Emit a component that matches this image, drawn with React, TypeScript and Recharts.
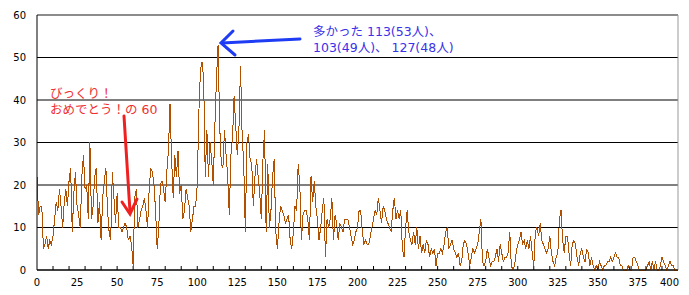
import React from "react";
import {
  LineChart, Line, XAxis, YAxis, CartesianGrid, ReferenceLine,
} from "recharts";

// counts per number 0..400
const counts = [
  22, 13, 15, 15, 5, 6, 8, 5, 7, 6,
  8, 12, 16, 14, 19, 15, 10, 16, 19, 15,
  21, 24, 9, 18, 23, 15, 13, 10, 22, 27,
  19, 20, 12, 30, 12, 15, 22, 24, 11, 16,
  7, 17, 21, 24, 14, 9, 7, 23, 17, 11,
  18, 10, 10, 9, 10, 11, 10, 7, 8, 6,
  1, 17, 19, 10, 12, 14, 15, 17, 14, 10,
  19, 24, 23, 20, 14, 5, 10, 20, 21, 19,
  16, 23, 28, 39, 26, 17, 27, 22, 28, 18,
  20, 12, 14, 19, 17, 15, 9, 12, 15, 15,
  20, 37, 47, 49, 45, 22, 33, 22, 30, 26,
  20, 34, 45, 53, 34, 25, 24, 33, 27, 22,
  13, 27, 31, 41, 34, 27, 33, 48, 32, 25,
  9, 30, 32, 26, 25, 15, 22, 26, 22, 18,
  12, 26, 33, 9, 25, 10, 14, 22, 26, 9,
  5, 11, 15, 14, 13, 11, 12, 13, 7, 5,
  9, 15, 14, 25, 20, 7, 13, 14, 14, 12,
  7, 22, 16, 21, 15, 12, 7, 10, 14, 17,
  3, 12, 10, 12, 17, 7, 13, 11, 7, 11,
  10, 9, 12, 12, 12, 10, 8, 6, 7, 9,
  10, 14, 14, 9, 6, 7, 6, 6, 8, 10,
  12, 14, 13, 17, 14, 11, 15, 14, 12, 11,
  10, 9, 14, 17, 12, 14, 12, 14, 5, 3,
  10, 14, 9, 7, 6, 9, 6, 10, 5, 8,
  4, 6, 4, 7, 6, 3, 5, 4, 5, 1,
  4, 4, 5, 4, 6, 9, 10, 5, 6, 7,
  5, 4, 3, 4, 1, 2, 6, 7, 6, 4,
  1, 3, 5, 4, 5, 6, 9, 12, 2, 1,
  2, 5, 3, 1, 2, 2, 3, 5, 2, 6,
  4, 2, 3, 3, 4, 9, 1, 0, 1, 4,
  6, 7, 9, 6, 7, 5, 7, 5, 8, 4,
  1, 9, 10, 8, 11, 7, 6, 5, 4, 5,
  8, 4, 2, 1, 3, 4, 12, 14, 7, 4,
  8, 8, 4, 1, 6, 7, 6, 3, 1, 4,
  5, 3, 2, 5, 4, 1, 3, 1, 0, 1,
  0, 2, 1, 0, 1, 1, 2, 2, 3, 2,
  3, 4, 3, 3, 1, 1, 0, 0, 0, 1,
  0, 0, 3, 3, 2, 1, 0, 0, 0, 0,
  0, 1, 2, 0, 2, 0, 2, 0, 0, 1,
  3, 2, 1, 0, 1, 2, 1, 1, 0, 0,
  0,
];

const yTicks = [0, 10, 20, 30, 40, 50, 60];
const xMarks = [10, 20, 30, 40, 50, 60, 70, 80, 90, 100, 110, 120, 130, 140, 150, 160, 170, 180, 190, 200, 210, 220, 230, 240, 250, 260, 270, 280, 290, 300, 310, 320, 330, 340, 350, 360, 370, 380, 390];
const xLabels = [0, 25, 50, 75, 100, 125, 150, 175, 200, 225, 250, 275, 300, 325, 350, 375, 400];

const blueNote = ["多かった 113(53人)、", "103(49人)、 127(48人)"];
const redNote = ["びっくり！", "おめでとう！の 60"];

const data = counts.map((c, i) => ({ n: i, count: c }));
const xTicks = Array.from(new Set([...xLabels, ...xMarks])).sort((a, b) => a - b);

function XTick(props: any) {
  const { x, y, payload } = props;
  const v = payload.value;
  return (
    <g>
      {xMarks.includes(v) && <line x1={x} x2={x} y1={y} y2={y - 4} stroke="#000" />}
      {xLabels.includes(v) && (
        <text x={v === 400 ? x + 1 : x} y={y + 16} textAnchor={v === 400 ? "end" : "middle"} fontSize={10} fill="#000">{v}</text>
      )}
    </g>
  );
}

export default function App() {
  return (
    <div style={{ position: "absolute", left: 0, top: 0, width: 689, height: 295, background: "#fff", fontFamily: "DejaVu Sans, sans-serif" }}>
      <LineChart width={689} height={295} data={data} margin={{ top: 15, right: 11, left: 0, bottom: 0 }}>
        <CartesianGrid vertical={false} stroke="#000" />
        <XAxis
          dataKey="n" type="number" domain={[0, 400]} ticks={xTicks} interval={0}
          tick={<XTick />} tickLine={false} tickSize={0} tickMargin={0}
          axisLine={{ stroke: "#000" }} height={25}
        />
        <YAxis
          domain={[0, 60]} ticks={yTicks} width={37} tickLine={false}
          axisLine={{ stroke: "#000" }} tick={{ fontSize: 10, fill: "#000", dx: -3 }}
        />
        <ReferenceLine y={60} stroke="#999" />
        <ReferenceLine x={400} stroke="#999" />
        <Line
          dataKey="count" stroke="#b05000" strokeWidth={1} dot={false}
          shapeRendering="crispEdges" isAnimationActive={false}
        />
      </LineChart>
      <svg width={689} height={295} style={{ position: "absolute", left: 0, top: 0, pointerEvents: "none" }}>
        <g fontFamily="DejaVu Sans, Noto Sans CJK JP" fontSize={12.5}>
          <text x={313} y={36} fill="#3a32e8">{blueNote[0]}</text>
          <text x={313} y={52} fill="#3a32e8">{blueNote[1]}</text>
          <text x={50} y={98} fill="#f03030">{redNote[0]}</text>
          <text x={50} y={114} fill="#f03030">{redNote[1]}</text>
        </g>
        <g stroke="#1f3cf5" strokeWidth={3} fill="none" strokeLinecap="round">
          <line x1={300} y1={39} x2={222} y2={43} />
          <polyline points="233,31 221,43 235,55" />
        </g>
        <g stroke="#f02020" strokeWidth={3} fill="none" strokeLinecap="round">
          <line x1={124} y1={116} x2={130} y2={212} />
          <polyline points="122,202 130,214 137,199" />
        </g>
      </svg>
    </div>
  );
}
